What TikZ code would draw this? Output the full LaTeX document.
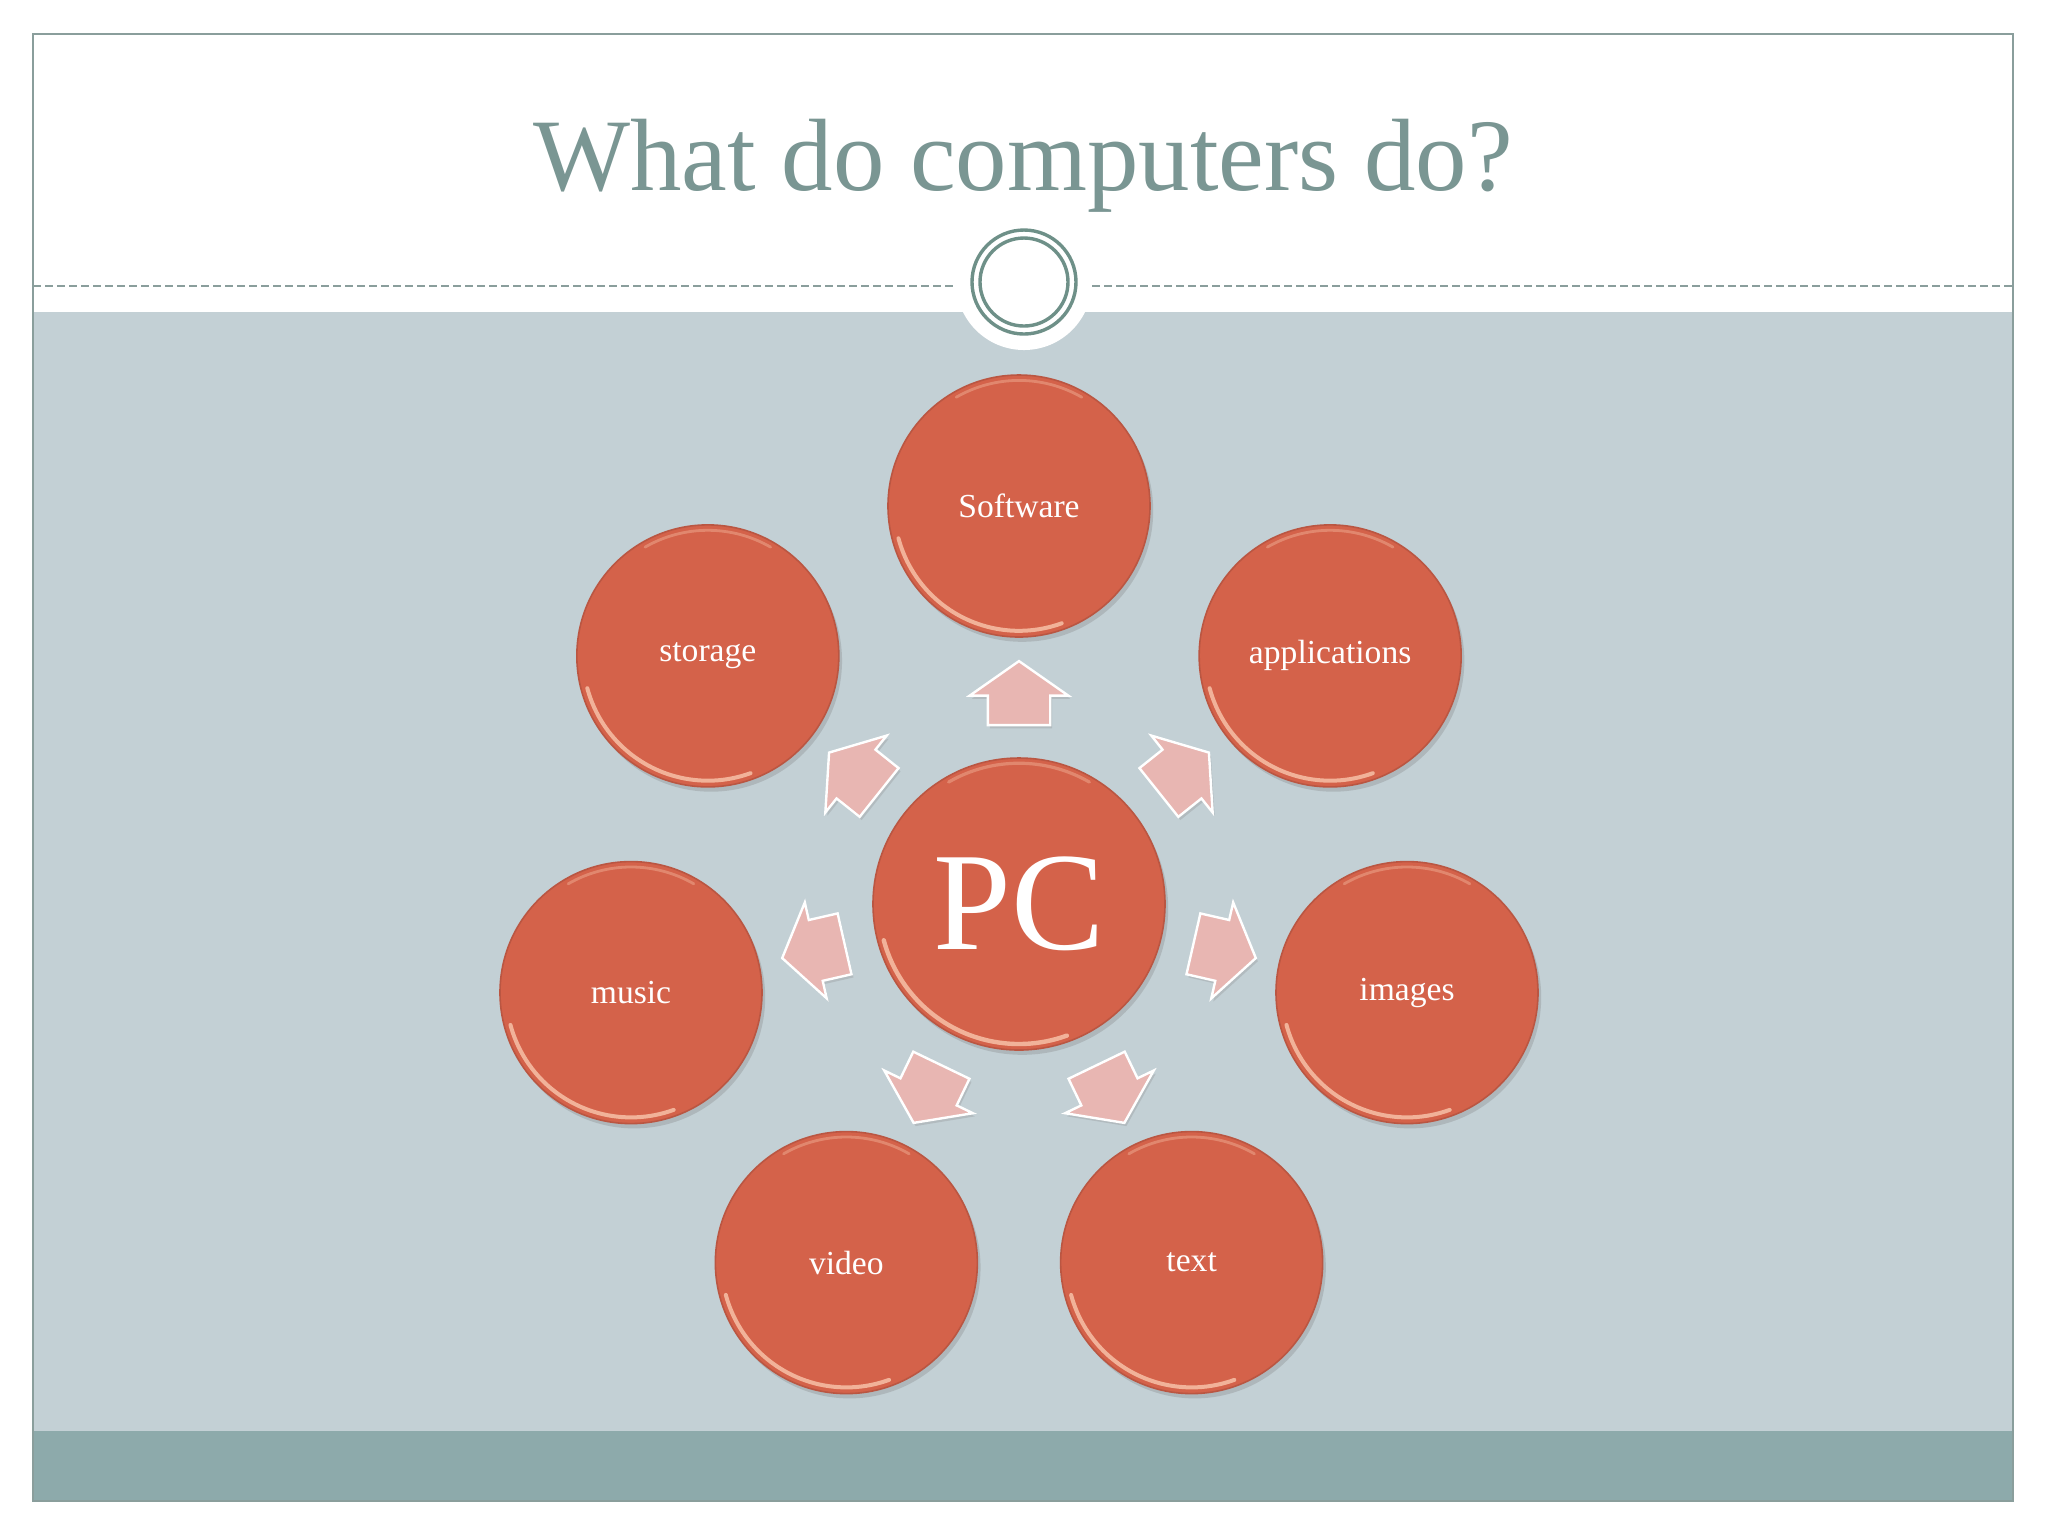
\documentclass[tikz,border=0pt]{standalone}
\usepackage{fontspec}
\setmainfont{Liberation Serif}
\usepackage{tikz}
\usetikzlibrary{shapes.arrows,shadows}
\usepackage{xcolor}
\definecolor{slideteal}{RGB}{122,150,147}
\definecolor{slideframe}{RGB}{138,158,156}
\definecolor{slidering}{RGB}{110,144,136}
\definecolor{slidefill}{RGB}{195,208,213}
\definecolor{slideband}{RGB}{141,170,171}
\definecolor{pcred}{RGB}{212,98,74}
\definecolor{pcrim}{RGB}{186,86,66}
\definecolor{pcglow}{RGB}{252,205,180}
\definecolor{pcpink}{RGB}{232,182,178}
\tikzstyle{bubble} = [circle, minimum size=65.5pt, inner sep=0pt, fill=pcred, draw=pcrim, line width=0.4pt, text=white, font=\fontsize{8.4}{10}\selectfont,
  drop shadow={shadow xshift=0.8pt, shadow yshift=-1.2pt, opacity=0.3},
  path picture={\draw[pcglow, line width=1pt, line cap=round, opacity=0.75] ([shift={(195:31.2pt)}]path picture bounding box.center) arc[start angle=195, end angle=290, radius=31.2pt];
    \draw[pcglow, line width=0.7pt, line cap=round, opacity=0.35] ([shift={(60:31.4pt)}]path picture bounding box.center) arc[start angle=60, end angle=120, radius=31.4pt];}]
\tikzstyle{hub} = [bubble, minimum size=73pt, font=\fontsize{35}{40}\selectfont,
  path picture={\draw[pcglow, line width=1.1pt, line cap=round, opacity=0.75] ([shift={(195:35pt)}]path picture bounding box.center) arc[start angle=195, end angle=290, radius=35pt];
    \draw[pcglow, line width=0.8pt, line cap=round, opacity=0.35] ([shift={(60:35.2pt)}]path picture bounding box.center) arc[start angle=60, end angle=120, radius=35.2pt];}]
\tikzstyle{pusharrow} = [single arrow, minimum height=16pt, minimum width=24pt, single arrow head extend=4.5pt, single arrow tip angle=110, inner xsep=0pt, inner ysep=7.5pt, fill=pcpink, draw=white, line width=0.6pt, drop shadow={shadow xshift=0.5pt, shadow yshift=-0.8pt, opacity=0.25}]

\begin{document}
\begin{tikzpicture}[x=0.25pt, y=0.25pt]

% Slide background
\useasboundingbox[fill=white] (0,0) rectangle (2048,-1536);
\fill[slidefill] (33,-312) rectangle (2013,-1431);
\fill[slideband] (33,-1431) rectangle (2013,-1501);
\fill[white] (1024,-282) circle[radius=68];
\draw[slideframe, line width=0.5pt] (33,-34) rectangle (2013,-1501);

% Header line and ring
\draw[slideframe, line width=0.5pt, dash pattern=on 2pt off 1pt] (33,-286) -- (953,-286);
\draw[slideframe, line width=0.5pt, dash pattern=on 2pt off 1pt] (1092,-286) -- (2013,-286);
\coordinate (ring) at (1024,-282);
\draw[slidering, line width=0.85pt] (ring) circle[radius=52];
\draw[slidering, line width=0.85pt] (ring) circle[radius=44];

% Title
\node (title) [anchor=base, text=slideteal, font=\fontsize{25.7}{30}\selectfont] at (1023,-190) {What do computers do?};

% Central node
\node (pc) [hub] at (1019,-904) {PC};

% Outer circles
\node (software) [bubble] at ([shift={(90:398)}]pc) {Software};
\node (apps) [bubble] at ([shift={(38.57:398)}]pc) {applications};
\node (images) [bubble] at ([shift={(-12.86:398)}]pc) {images};
\node (text) [bubble] at ([shift={(-64.29:398)}]pc) {text};
\node (video) [bubble] at ([shift={(-115.71:398)}]pc) {video};
\node (music) [bubble] at ([shift={(-167.14:398)}]pc) {music};
\node (storage) [bubble] at ([shift={(141.43:398)}]pc) {storage};

% Arrows
\node (to-software) [pusharrow, rotate=90] at ([shift={(90:200)}]pc) {};
\node (to-apps) [pusharrow, rotate=38.57] at ([shift={(38.57:200)}]pc) {};
\node (to-images) [pusharrow, rotate=-12.86] at ([shift={(-12.86:200)}]pc) {};
\node (to-text) [pusharrow, rotate=-64.29] at ([shift={(-64.29:200)}]pc) {};
\node (to-video) [pusharrow, rotate=-115.71] at ([shift={(-115.71:200)}]pc) {};
\node (to-music) [pusharrow, rotate=-167.14] at ([shift={(-167.14:200)}]pc) {};
\node (to-storage) [pusharrow, rotate=141.43] at ([shift={(141.43:200)}]pc) {};
\end{tikzpicture}
\end{document}
